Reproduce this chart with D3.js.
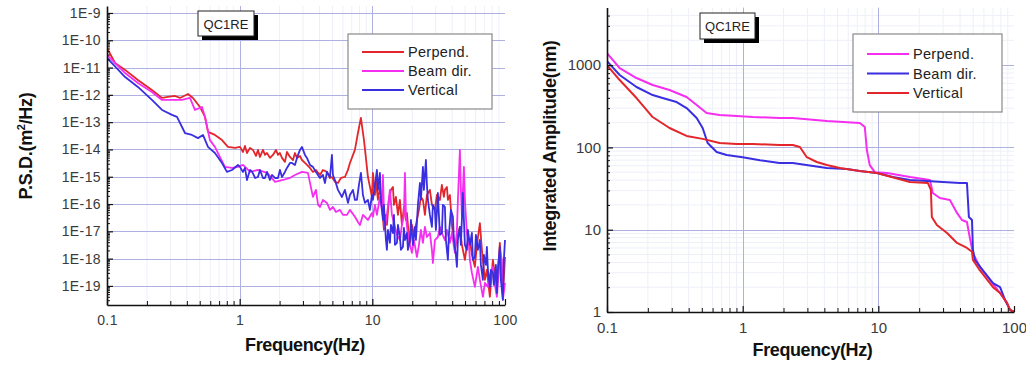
<!DOCTYPE html>
<html>
<head>
<meta charset="utf-8">
<script src="https://cdn.jsdelivr.net/npm/d3@7"></script>
<style>
  body { margin: 0; background: #fff; }
  svg { display: block; font-family: "Liberation Sans", Arial, sans-serif; }
</style>
</head>
<body>
<svg id="chart" width="1026" height="365"></svg>
<script>
// ---- data ---------------------------------------------------------------
const seriesNames = ["Perpend.", "Beam dir.", "Vertical"];
const stationLabel = "QC1RE";

// Power spectral density [frequency Hz, m^2/Hz]
const psdPerpend = [
  [0.100,5.2e-11],[0.115,1.47e-11],[0.137,8.2e-12],[0.171,3.5e-12],[0.218,1.5e-12],[0.260,7.7e-13],
  [0.288,8.4e-13],[0.325,9.1e-13],[0.355,7.7e-13],[0.408,1.08e-12],[0.445,7.7e-13],[0.502,3.6e-13],
  [0.548,1.55e-13],[0.577,4.4e-14],[0.651,3.4e-14],[0.736,2.2e-14],[0.816,1.24e-14],[0.922,1.14e-14],
  [1.005,1.24e-14],[1.059,8.1e-15],[1.096,1.34e-14],[1.135,7.4e-15],[1.196,1.14e-14],[1.260,9.6e-15],
  [1.327,5.8e-15],[1.374,9.6e-15],[1.422,5.3e-15],[1.498,9.6e-15],[1.551,6.3e-15],[1.606,7.4e-15],
  [1.692,4.9e-15],[1.782,6.3e-15],[1.877,9.6e-15],[1.944,6.3e-15],[2.012,7.4e-15],[2.084,4.9e-15],
  [2.194,3.5e-15],[2.272,8.1e-15],[2.394,5.3e-15],[2.522,4.1e-15],[2.611,7.4e-15],[2.703,4.9e-15],
  [2.847,5.8e-15],[2.948,4.1e-15],[3.105,3.2e-15],[3.215,2.7e-15],[3.387,2.1e-15],[3.567,1.5e-15],
  [3.758,1.77e-15],[4.029,1.16e-15],[4.244,1.77e-15],[4.550,1.5e-15],[4.792,9.0e-16],[4.961,9.8e-16],
  [5.226,6.5e-16],[5.506,5.9e-16],[5.800,9.0e-16],[6.216,9.8e-16],[6.548,1.77e-15],[6.780,3.2e-15],
  [7.39,9.6e-15],[7.79,4.0e-14],[8.20,1.43e-13],[8.65,2.2e-14],[9.27,9.8e-16],[9.93,1.82e-16],
  [10.10,1.38e-15],[10.46,2.15e-16],[10.64,7.6e-16],[11.02,1.41e-16],[11.41,4.2e-16],[11.81,9.3e-17],
  [12.23,1.12e-17],[12.66,4.0e-17],[12.88,1.71e-17],[13.34,1.41e-16],[13.81,3.3e-16],[14.30,4.2e-16],
  [14.55,9.3e-17],[15.06,1.82e-16],[15.60,4.0e-17],[16.14,1.41e-16],[16.71,1.71e-17],[17.30,7.8e-17],
  [17.91,2.6e-17],[18.23,4.7e-17],[18.87,6.2e-18],[19.20,3.8e-18],[19.88,1.71e-17],[20.58,7.4e-18],
  [21.68,2.6e-17],[22.45,6.1e-17],[23.24,1.82e-16],[24.06,1.41e-16],[24.91,4.0e-17],[25.79,2.15e-16],
  [27.16,3.3e-16],[28.12,9.3e-17],[29.62,6.1e-17],[30.67,2.15e-16],[32.30,1.41e-16],[33.44,5.0e-16],
  [34.62,1.82e-16],[35.24,3.3e-16],[36.48,4.2e-16],[37.12,1.41e-16],[38.43,2.15e-16],[39.79,1.71e-17],
  [41.92,2.1e-18],[43.40,6.2e-18],[45.71,1.45e-17],[47.32,3.2e-18],[49.86,9.0e-19],[51.62,3.2e-18],
  [54.38,4.8e-18],[56.30,1.37e-18],[59.30,5.0e-19],[61.39,3.2e-18],[64.67,2.0e-17],[66.96,2.1e-18],
  [70.54,1.66e-19],[73.03,3.9e-19],[76.93,4.0e-20],[81.05,9.0e-19],[83.90,2.5e-19],[86.87,9.2e-20],
  [91.48,3.8e-18],[94.71,2.5e-19],[96.37,4.0e-20],[100,1.15e-18]
];
const psdBeam = [
  [0.100,2.9e-11],[0.137,6.3e-12],[0.171,2.7e-12],[0.218,1.28e-12],[0.260,6.5e-13],[0.309,6.5e-13],
  [0.367,6.5e-13],[0.422,7.7e-13],[0.460,2.8e-13],[0.520,3.6e-13],[0.548,1.55e-13],[0.597,2.2e-14],
  [0.651,1.24e-14],[0.709,5.3e-15],[0.774,2.3e-15],[0.875,2.1e-15],[0.971,2.3e-15],[1.06,2.7e-15],
  [1.20,1.5e-15],[1.37,1.77e-15],[1.61,1.38e-15],[1.85,6.5e-16],[2.12,7.6e-16],[2.39,9.0e-16],
  [2.61,1.16e-15],[2.95,1.5e-15],[3.27,1.38e-15],[3.567,1.82e-16],[3.758,3.3e-16],[3.898,9.3e-17],
  [4.029,7.8e-17],[4.244,1.41e-16],[4.55,1.1e-16],[4.792,6.1e-17],[5.047,7.8e-17],[5.318,5.1e-17],
  [5.700,6.1e-17],[6.003,4.0e-17],[6.436,4.0e-17],[6.78,6.1e-17],[7.394,3.4e-17],[7.790,2.2e-17],
  [8.065,1.71e-17],[8.496,4.0e-17],[8.796,3.4e-17],[9.266,2.6e-17],[9.93,4.7e-17],
  [10.10,3.4e-17],[10.46,9.3e-17],[10.83,4.0e-17],[11.41,1.82e-16],[11.81,6.1e-17],[12.02,1.16e-15],
  [12.23,6.1e-17],[12.45,1.45e-17],[12.88,4.0e-17],[13.57,3.3e-16],[14.05,4.0e-17],[14.81,1.45e-17],
  [15.33,7.4e-18],[16.14,4.8e-18],[16.71,1.71e-17],[17.30,4.0e-17],[17.61,1.38e-15],[17.91,4.0e-17],
  [18.23,1.45e-17],[18.87,4.8e-18],[19.88,1.62e-18],[20.58,4.8e-18],[21.68,1.15e-18],[22.45,3.2e-18],
  [23.24,1.12e-17],[24.06,3.8e-18],[24.91,1.45e-17],[25.79,6.2e-18],[27.16,8.7e-18],[28.12,2.1e-18],
  [28.61,6.9e-19],[29.62,4.8e-18],[31.20,6.2e-18],[32.30,1.45e-17],[33.44,8.7e-18],[35.24,4.8e-18],
  [36.48,1.12e-17],[38.43,3.8e-18],[39.79,8.7e-18],[41.92,1.62e-18],[43.40,1.12e-17],[44.16,1.41e-16],
  [45.71,9.6e-15],[46.51,3.3e-16],[47.32,4.0e-17],[49.00,2.3e-15],[49.86,1.41e-16],[51.62,8.7e-18],
  [53.45,3.2e-18],[54.38,9.0e-19],[56.30,3.0e-19],[59.30,9.2e-20],[62.47,5.0e-19],[64.67,1.66e-19],
  [68.13,4.0e-20],[70.54,1.29e-19],[74.31,9.2e-20],[76.93,2.5e-19],[81.05,5.0e-19],[83.90,1.09e-19],
  [86.87,4.0e-20],[89.94,3.9e-19],[91.48,2.1e-18],[94.71,9.0e-19],[96.37,3.1e-20],[100,1.29e-19]
];
const psdVertical = [
  [0.100,2.25e-11],[0.137,4.5e-12],[0.171,1.95e-12],[0.218,6.5e-13],[0.260,2.8e-13],[0.309,1.84e-13],
  [0.337,1.55e-13],[0.387,4.0e-14],[0.437,3.4e-14],[0.485,2.6e-14],[0.529,3.4e-14],[0.577,1.24e-14],
  [0.651,7.4e-15],[0.736,3.2e-15],[0.802,1.5e-15],[0.875,1.77e-15],[0.971,2.7e-15],
  [1.005,2.3e-15],[1.059,1.5e-15],[1.096,2.1e-15],[1.135,7.6e-16],[1.196,1.77e-15],[1.242,1.5e-15],
  [1.309,9.0e-16],[1.374,9.8e-16],[1.422,1.77e-15],[1.498,9.0e-16],[1.551,9.0e-16],[1.606,1.5e-15],
  [1.692,7.6e-16],[1.752,1.16e-15],[1.845,9.0e-16],[1.944,9.0e-16],[2.012,1.77e-15],[2.084,9.8e-16],
  [2.194,1.5e-15],[2.272,2.1e-15],[2.394,3.2e-15],[2.478,3.2e-15],[2.611,2.7e-15],[2.703,4.9e-15],
  [2.847,9.6e-15],[2.948,1.24e-14],[3.105,6.3e-15],[3.215,4.9e-15],[3.387,2.7e-15],[3.567,2.3e-15],
  [3.758,1.5e-15],[4.029,9.0e-16],[4.244,1.16e-15],[4.394,5.9e-16],[4.550,1.5e-15],[4.792,9.8e-16],
  [4.961,6.3e-15],[5.047,1.16e-15],[5.226,7.6e-16],[5.506,3.3e-16],[5.90,1.82e-16],[6.216,3.3e-16],
  [6.548,1.1e-16],[6.780,2.15e-16],[7.142,3.3e-16],[7.394,1.41e-16],[7.656,1.41e-16],[7.925,5.0e-16],
  [8.206,1.38e-15],[8.496,2.15e-16],[8.796,1.1e-16],[9.266,1.41e-16],[9.592,6.1e-17],[9.93,2.15e-16],
  [10.10,1.41e-16],[10.46,5.0e-16],[10.83,1.77e-15],[11.02,3.3e-16],[11.41,1.38e-15],[11.61,1.41e-16],
  [12.02,2.6e-17],[12.23,9.3e-17],[12.66,4.8e-18],[12.88,2.1e-18],[13.11,1.12e-17],[13.57,3.8e-18],
  [13.81,1.71e-17],[14.30,8.7e-18],[14.55,4.0e-17],[14.81,3.2e-18],[15.33,3.8e-18],[15.60,1.71e-17],
  [16.14,6.2e-18],[16.43,2.1e-18],[17.01,2.7e-18],[17.30,1.33e-17],[17.61,4.8e-18],[18.23,8.7e-18],
  [18.55,2.1e-18],[19.20,4.8e-18],[19.54,2.6e-17],[20.23,3.2e-18],[20.94,1.45e-17],[21.31,4.8e-18],
  [22.06,9.3e-17],[22.84,5.9e-16],[23.24,1.41e-16],[24.06,2.3e-15],[24.48,3.3e-16],[25.34,4.1e-15],
  [25.79,5.0e-16],[26.24,1.41e-16],[27.16,4.0e-17],[28.12,1.45e-17],[28.61,9.3e-17],[29.62,6.1e-17],
  [30.14,1.12e-17],[31.20,2.55e-16],[31.75,4.0e-17],[32.30,7.4e-18],[33.44,8.7e-18],[34.03,9.3e-17],
  [35.24,7.8e-17],[35.85,4.8e-18],[37.12,9.0e-19],[37.77,7.4e-18],[39.10,6.1e-17],[40.48,3.4e-17],
  [41.20,4.8e-18],[42.65,1.37e-18],[43.40,5.0e-19],[44.16,4.8e-18],[45.71,1.45e-17],[46.51,3.2e-18],
  [48.16,2.55e-16],[49.00,2.6e-17],[49.86,3.2e-18],[51.62,2.1e-18],[52.52,1.12e-17],[54.38,3.2e-18],
  [56.30,8.7e-18],[57.28,9.0e-19],[59.30,1.15e-18],[60.34,7.4e-18],[62.47,2.1e-18],[64.67,4.8e-18],
  [65.81,5.9e-19],[68.13,1.66e-19],[69.33,1.37e-18],[71.77,5.9e-19],[73.03,2.7e-18],[74.31,3.9e-19],
  [76.93,9.2e-20],[78.28,3.9e-19],[81.05,3.0e-19],[82.46,1.09e-19],[85.38,5.9e-19],[86.87,5.5e-20],
  [88.39,3.9e-19],[91.48,2.7e-18],[93.08,1.66e-19],[96.37,3.1e-20],[98.04,9.0e-19],[100,4.8e-18]
];

// Integrated amplitude [frequency Hz, nm]
const ampPerpend = [
  [0.100,1400],[0.124,922],[0.165,697],[0.217,573],[0.289,498],[0.386,410],[0.458,327],
  [0.542,262],[0.676,248],[0.904,241],[1.19,234],[1.87,228],[2.34,228],[4.17,209],[7.30,198],
  [7.95,177],[8.23,93],[8.65,61],[9.42,50],[11.6,48.9],[17.1,43.7],[24.0,40.2],[25.2,27.9],
  [28.4,24.3],[33.7,22.9],[38.0,16.0],[41.3,13.1],[45.0,12.4],[47.3,7.9],[49.8,5.2],
  [56.1,3.5],[66.5,2.45],[78.9,1.7],[88.8,1.29],[93.4,1.06],[100,1.0]
];
const ampBeam = [
  [0.100,1120],[0.124,758],[0.165,542],[0.217,433],[0.257,398],[0.326,356],[0.386,301],
  [0.458,228],[0.507,172],[0.552,113],[0.643,88],[0.762,81],[1.00,76],[1.34,70],[1.87,64.6],
  [2.34,64.6],[4.17,56.2],[5.86,54.7],[7.30,51.7],[9.75,48.9],[12.8,43.7],[17.1,40.2],
  [22.8,39.0],[29.9,38.0],[39.9,36.9],[45.0,36.9],[46.5,14.3],[49.0,13.1],[49.8,5.7],
  [51.5,4.3],[59.0,3.2],[70.0,2.25],[78.9,2.0],[85.9,1.40],[93.4,1.06],[100,1.0]
];
const ampVertical = [
  [0.100,1000],[0.124,659],[0.165,398],[0.217,234],[0.289,172],[0.386,138],[0.507,127],
  [0.676,113],[0.904,110],[1.19,110],[1.87,107],[2.34,107],[2.64,101],[2.97,76],[3.52,66.5],
  [4.17,61.1],[5.20,56.2],[7.30,51.7],[9.75,48.9],[17.1,38.0],[23.2,36.9],[24.4,30.4],
  [24.8,14.3],[27.0,11.4],[32.1,9.1],[38.0,6.9],[45.0,6.0],[49.0,5.4],[49.8,4.3],[56.1,3.2],
  [70.0,2.0],[78.9,1.70],[88.8,1.29],[93.4,1.06],[100,1.0]
];

const freqTicks = [0.1, 1, 10, 100];
const freqTickLabels = ["0.1", "1", "10", "100"];
const psdTicks = [1e-9, 1e-10, 1e-11, 1e-12, 1e-13, 1e-14, 1e-15, 1e-16, 1e-17, 1e-18, 1e-19];
const psdTickLabels = ["1E-9","1E-10","1E-11","1E-12","1E-13","1E-14","1E-15","1E-16","1E-17","1E-18","1E-19"];
const ampTicks = [1, 10, 100, 1000];
const ampTickLabels = ["1", "10", "100", "1000"];

// ---- styling -------------------------------------------------------------
const RED = "#e3262b", MAGENTA = "#f52ef0", BLUE = "#3a2fe0";
const GRID = "#aeb0e2", MINOR_GRID = "#eef0f8";

const svg = d3.select("#chart");

// minor positions (2..9 inside each decade)
function minorValues(lo, hi) {
  const out = [];
  for (let e = Math.floor(Math.log10(lo)); e < Math.ceil(Math.log10(hi)); e++) {
    for (let m = 2; m <= 9; m++) {
      const v = m * Math.pow(10, e);
      if (v > lo && v < hi) out.push(v);
    }
  }
  return out;
}

function drawPanel(cfg) {
  const { x, y, g, id } = cfg;
  const [x0, x1] = x.range();
  const [yb, yt] = y.range();

  // minor grid
  g.append("g").selectAll("line").data(minorValues(0.1, 100)).join("line")
    .attr("x1", d => x(d)).attr("x2", d => x(d)).attr("y1", yt).attr("y2", yb)
    .attr("stroke", MINOR_GRID).attr("stroke-width", 1);
  if (cfg.minorY) {
    g.append("g").selectAll("line").data(minorValues(...y.domain())).join("line")
      .attr("x1", x0).attr("x2", x1).attr("y1", d => y(d)).attr("y2", d => y(d))
      .attr("stroke", MINOR_GRID).attr("stroke-width", 1);
  }
  // major grid
  g.append("g").selectAll("line").data(cfg.yTicks).join("line")
    .attr("x1", x0).attr("x2", x1).attr("y1", d => Math.round(y(d)) + 0.5).attr("y2", d => Math.round(y(d)) + 0.5)
    .attr("stroke", GRID).attr("stroke-width", 1);
  g.append("g").selectAll("line").data([1, 10]).join("line")
    .attr("x1", d => Math.round(x(d)) + 0.5).attr("x2", d => Math.round(x(d)) + 0.5).attr("y1", yt).attr("y2", yb)
    .attr("stroke", GRID).attr("stroke-width", 1);

  // series
  g.append("defs").append("clipPath").attr("id", id)
    .append("rect").attr("x", x0).attr("y", yt).attr("width", x1 - x0 + 1).attr("height", yb - yt);
  const line = d3.line().x(d => x(d[0])).y(d => y(d[1]));
  const lines = g.append("g").attr("clip-path", `url(#${id})`);
  cfg.series.forEach(s => {
    lines.append("path").datum(s.data)
      .attr("d", line).attr("fill", "none")
      .attr("stroke", s.color).attr("stroke-width", s.width)
      .attr("stroke-linejoin", "round");
  });

  // axes
  const yMinor = g.append("g").attr("transform", `translate(${x0},0)`)
    .call(d3.axisLeft(y).tickValues(minorValues(...y.domain())).tickSize(-3).tickFormat(""));
  yMinor.select(".domain").remove();
  const xMinor = g.append("g").attr("transform", `translate(0,${yb})`)
    .call(d3.axisBottom(x).tickValues(minorValues(0.1, 100)).tickSize(-4).tickFormat(""));
  xMinor.select(".domain").remove();

  const yAxis = g.append("g").attr("transform", `translate(${x0},0)`)
    .call(d3.axisLeft(y).tickValues(cfg.yTicks).tickSize(-6).tickSizeOuter(0).tickPadding(cfg.yPad)
      .tickFormat((d, i) => cfg.yLabels[i]));
  const xAxis = g.append("g").attr("transform", `translate(0,${yb})`)
    .call(d3.axisBottom(x).tickValues(freqTicks).tickSize(-6).tickSizeOuter(0).tickPadding(cfg.xPad)
      .tickFormat((d, i) => freqTickLabels[i]));
  [yAxis, xAxis].forEach(a => {
    a.select(".domain").attr("stroke", "#111").attr("stroke-width", 1.6);
    a.selectAll(".tick line").attr("stroke", "#111").attr("stroke-width", 1.2);
    a.selectAll(".tick text").attr("fill", "#3a3a3a").attr("font-size", cfg.tickFont)
      .attr("font-family", "'Liberation Sans', Arial, sans-serif").attr("letter-spacing", cfg.tickSpacing);
  });
  yMinor.selectAll(".tick line").attr("stroke", "#111");
  xMinor.selectAll(".tick line").attr("stroke", "#111");

  // station badge
  const b = cfg.badge;
  g.append("rect").attr("x", b.x + 4).attr("y", b.y + 4).attr("width", b.w).attr("height", b.h).attr("fill", "#000");
  g.append("rect").attr("x", b.x).attr("y", b.y).attr("width", b.w).attr("height", b.h)
    .attr("fill", "#fff").attr("stroke", "#222").attr("stroke-width", 1);
  g.append("text").attr("x", b.x + b.w / 2).attr("y", b.y + b.h / 2 + 5)
    .attr("text-anchor", "middle").attr("font-size", 13).attr("fill", "#222").text(stationLabel);

  // legend
  const L = cfg.legend;
  g.append("rect").attr("x", L.x).attr("y", L.y).attr("width", L.w).attr("height", L.h)
    .attr("fill", "#fff").attr("stroke", "#8a8a8a").attr("stroke-width", 1.2);
  cfg.series.slice().sort((a, b) => a.order - b.order).forEach((s, i) => {
    const yy = L.y + L.first + i * L.step;
    g.append("line").attr("x1", L.x + 14).attr("x2", L.x + 56).attr("y1", yy).attr("y2", yy)
      .attr("stroke", s.color).attr("stroke-width", 2);
    g.append("text").attr("x", L.x + 60).attr("y", yy + 5).attr("font-size", 14.5)
      .attr("fill", "#222").attr("letter-spacing", 0.3).text(s.name);
  });

  // axis titles
  g.append("text").attr("x", (x0 + x1) / 2 + cfg.xTitleDx).attr("y", cfg.xTitleY)
    .attr("text-anchor", "middle").attr("font-size", 18).attr("font-weight", "bold")
    .attr("letter-spacing", -0.4).attr("fill", "#111").text("Frequency(Hz)");
  const yt2 = g.append("text")
    .attr("transform", `translate(${cfg.yTitleX},${cfg.yTitleY}) rotate(-90)`)
    .attr("text-anchor", "middle").attr("font-size", 18).attr("font-weight", "bold")
    .attr("letter-spacing", -0.3).attr("fill", "#111");
  cfg.yTitle(yt2);
}

// ---- left panel: P.S.D. ----------------------------------------------------
const xL = d3.scaleLog().domain([0.1, 100]).range([107, 505]);
const yL = d3.scaleLog().domain([2e-20, 1.8e-9]).range([305, 6]);
drawPanel({
  id: "clipL", g: svg.append("g"), x: xL, y: yL,
  yTicks: psdTicks, yLabels: psdTickLabels, yPad: 6, xPad: 10, tickFont: 14, tickSpacing: 0.4,
  minorY: false,
  series: [
    { name: seriesNames[0], data: psdPerpend, color: RED, width: 1.8, order: 0 },
    { name: seriesNames[1], data: psdBeam, color: MAGENTA, width: 1.8, order: 1 },
    { name: seriesNames[2], data: psdVertical, color: BLUE, width: 1.8, order: 2 }
  ],
  badge: { x: 198, y: 11, w: 56, h: 25 },
  legend: { x: 348, y: 34, w: 144, h: 75, first: 18, step: 19 },
  xTitleDx: -1, xTitleY: 351,
  yTitleX: 32, yTitleY: 146,
  yTitle: t => {
    t.append("tspan").text("P.S.D.(m");
    t.append("tspan").attr("font-size", 11).attr("dy", -7).text("2");
    t.append("tspan").attr("dy", 7).text("/Hz)");
  }
});

// ---- right panel: integrated amplitude -----------------------------------
const xR = d3.scaleLog().domain([0.1, 100]).range([607, 1014]);
const yR = d3.scaleLog().domain([1, 5000]).range([312, 7.6]);
drawPanel({
  id: "clipR", g: svg.append("g"), x: xR, y: yR,
  yTicks: ampTicks, yLabels: ampTickLabels, yPad: 6, xPad: 10, tickFont: 15, tickSpacing: 0,
  minorY: true,
  series: [
    { name: seriesNames[0], data: ampPerpend, color: MAGENTA, width: 2, order: 0 },
    { name: seriesNames[1], data: ampBeam, color: BLUE, width: 2, order: 1 },
    { name: seriesNames[2], data: ampVertical, color: RED, width: 2, order: 2 }
  ],
  badge: { x: 700, y: 13, w: 55, h: 26 },
  legend: { x: 853, y: 34, w: 149, h: 78, first: 20, step: 19.5 },
  xTitleDx: 2, xTitleY: 356,
  yTitleX: 556, yTitleY: 146,
  yTitle: t => t.text("Integrated Amplitude(nm)")
});
</script>
</body>
</html>
